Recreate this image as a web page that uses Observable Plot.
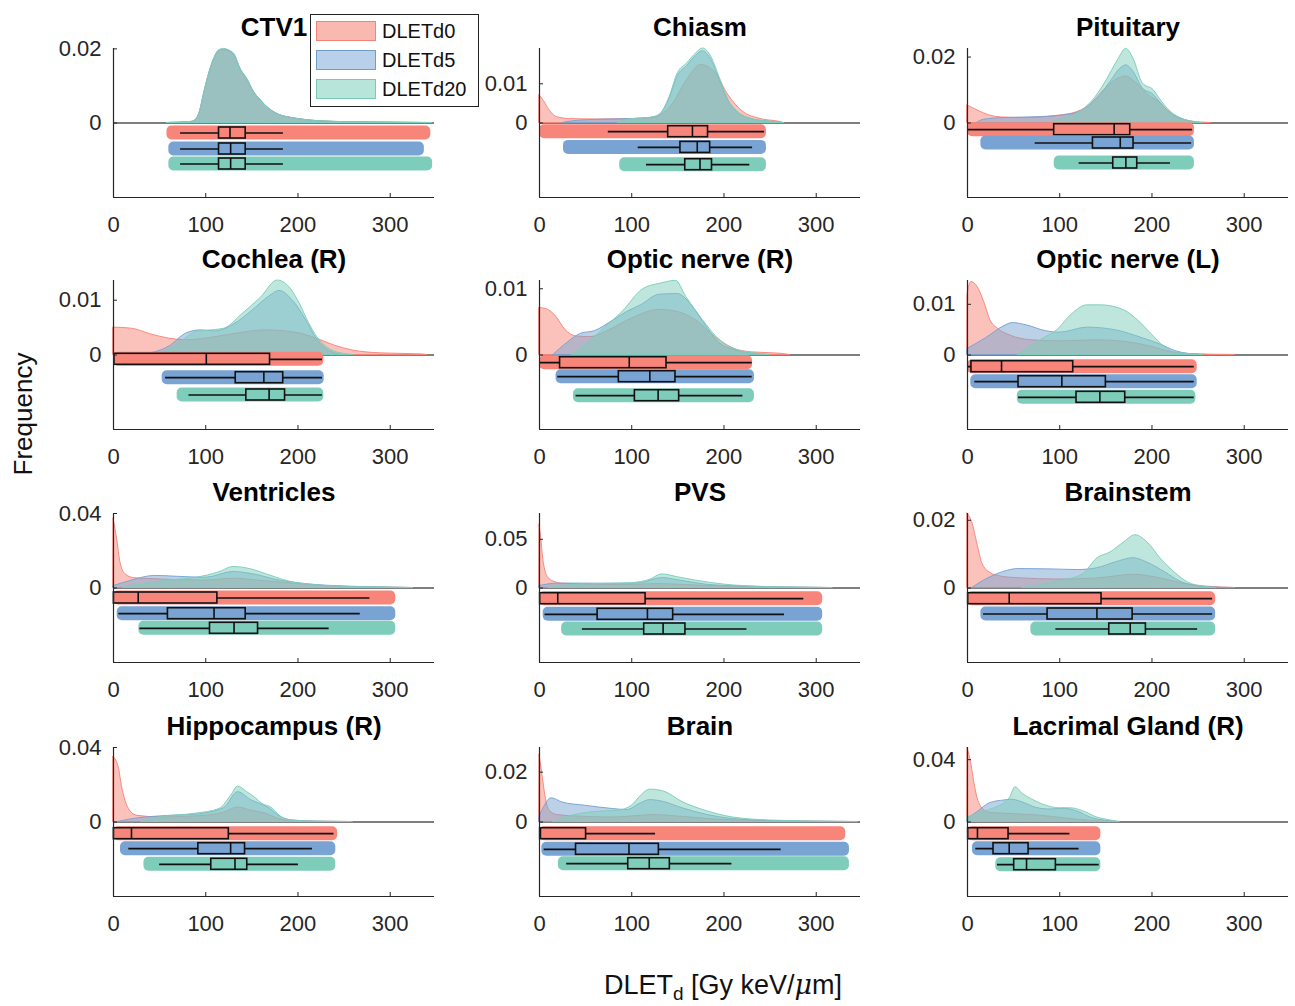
<!DOCTYPE html>
<html><head><meta charset="utf-8">
<script src="https://cdn.jsdelivr.net/npm/d3@7"></script>
<script src="https://cdn.jsdelivr.net/npm/@observablehq/plot@0.6"></script>
<style>
body{margin:0;background:#fff;}
#wrap{position:relative;width:1295px;height:1006px;font-family:"Liberation Sans",Arial,sans-serif;overflow:hidden;background:#fff;}
.panel{position:absolute;}
.panel svg{display:block;}
.legend{position:absolute;left:310px;top:14px;width:167px;height:91px;border:1.3px solid #222;background:#fff;z-index:5;}
.legend .row{position:absolute;left:5px;height:21px;}
.legend .sw{position:absolute;left:0;top:0;width:60px;height:20px;box-sizing:border-box;}
.legend .lab{position:absolute;left:66px;top:-1px;font-size:20px;color:#111;white-space:nowrap;}
</style></head><body><div id="wrap"></div>
<script>
const series = ["DLETd0", "DLETd5", "DLETd20"];
const panels = ["CTV1", "Chiasm", "Pituitary", "Cochlea (R)", "Optic nerve (R)", "Optic nerve (L)",
  "Ventricles", "PVS", "Brainstem", "Hippocampus (R)", "Brain", "Lacrimal Gland (R)"];
const yTicks = [0.02, 0.01, 0.02, 0.01, 0.01, 0.01, 0.04, 0.05, 0.02, 0.04, 0.02, 0.04];
const yMax = [0.0201, 0.019, 0.0226, 0.0136, 0.01125, 0.0147, 0.04, 0.0765, 0.022, 0.04, 0.0299, 0.0478];
const xTicks = [0, 100, 200, 300];

// density curves [x, frequency] per panel
const densD0 = [
  [[58,0],[85,0.0003],[90,0.001],[94,0.0032],[98,0.0076],[103.5,0.013],[109,0.017],[114,0.0192],[120,0.0196],[126,0.0192],[131,0.0182],[138,0.0143],[145,0.0117],[152,0.0084],[160,0.006],[167,0.0042],[174,0.0029],[183,0.0019],[192,0.0014],[205,0.0009],[221,0.0005],[257,0.0002],[300,0.0001],[344,0]],
  [[0,0.0071],[5,0.0055],[11,0.0032],[19,0.0015],[33,0.001],[60,0.0009],[100,0.001],[125,0.0013],[135,0.0025],[145,0.005],[160,0.011],[175,0.0148],[190,0.013],[205,0.007],[220,0.003],[240,0.001],[260,0.0003],[265,0]],
  [[0,0.0053],[11,0.0038],[25,0.0022],[36,0.0017],[61,0.0015],[98,0.0022],[119,0.0033],[134,0.0058],[148,0.0099],[163,0.0134],[172,0.0141],[184,0.0119],[199,0.0078],[206,0.0068],[217,0.0038],[228,0.0015],[242,0.0005],[264,0]],
  [[0,0.005],[20,0.0048],[40,0.0038],[60,0.003],[80,0.0027],[100,0.003],[130,0.0038],[165,0.0045],[200,0.004],[220,0.003],[240,0.0017],[260,0.0008],[290,0.0003],[335,0.0001],[340,0]],
  [[0,0.0071],[8,0.0069],[18,0.0058],[28,0.0038],[40,0.0028],[55,0.0027],[75,0.0037],[100,0.0055],[130,0.0068],[150,0.0065],[170,0.0052],[190,0.0028],[210,0.001],[230,0.0004],[260,0.0002],[272,0]],
  [[0,0.012],[4,0.0144],[11,0.0134],[18,0.0105],[25,0.0068],[33,0.0052],[47,0.0038],[70,0.0029],[100,0.0027],[140,0.0029],[170,0.0026],[200,0.0016],[220,0.0006],[240,0.0002],[290,0]],
  [[0,0.0373],[4,0.026],[7.6,0.0135],[13,0.0074],[22,0.0053],[40,0.0048],[70,0.0042],[100,0.004],[130,0.005],[160,0.0038],[180,0.003],[230,0.001],[280,0.0003],[320,0]],
  [[0,0.065],[2,0.05],[4,0.03],[6,0.019],[10,0.01],[15,0.0068],[25,0.0044],[50,0.0035],[90,0.003],[130,0.004],[170,0.0025],[210,0.0012],[260,0.0004],[315,0]],
  [[0,0.022],[5,0.0195],[11,0.0127],[16,0.0073],[25,0.0044],[36,0.0034],[55,0.0029],[100,0.0025],[140,0.0028],[180,0.0039],[210,0.0028],[235,0.0012],[260,0.0004],[290,0]],
  [[0,0.035],[6,0.0286],[9,0.0195],[13,0.0114],[18,0.006],[26,0.0033],[50,0.0025],[90,0.003],[120,0.005],[135,0.0078],[150,0.006],[165,0.0045],[180,0.0015],[195,0.0003],[260,0]],
  [[0,0.027],[2,0.022],[4,0.0166],[7,0.0092],[11,0.0045],[19,0.0028],[40,0.0022],[80,0.0018],[110,0.0025],[125,0.0028],[150,0.0022],[190,0.001],[240,0.0004],[300,0.0001],[340,0]],
  [[0,0.0475],[3.6,0.039],[7.2,0.026],[10.8,0.0154],[14.5,0.01],[20,0.0068],[25,0.0058],[35,0.0055],[50,0.005],[80,0.004],[110,0.002],[140,0.0005],[155,0]]
];
const densD5 = [
  [[58,0],[85,0.0003],[90,0.001],[94,0.0033],[98,0.0077],[103.5,0.0131],[109,0.0172],[114,0.0194],[120,0.0198],[126,0.0194],[131,0.0184],[138,0.0144],[145,0.0118],[152,0.0085],[160,0.006],[167,0.0042],[174,0.0029],[183,0.0019],[192,0.0014],[205,0.0009],[221,0.0005],[257,0.0002],[300,0.0001],[337,0]],
  [[25,0],[35,0.0004],[60,0.0008],[100,0.001],[120,0.0013],[130,0.002],[141,0.0062],[150,0.012],[160,0.0145],[170,0.0172],[177,0.0183],[185,0.0166],[195,0.0112],[205,0.0055],[215,0.0027],[230,0.001],[250,0.0003],[262,0]],
  [[10,0],[18,0.001],[40,0.0015],[80,0.0018],[110,0.0025],[125,0.0038],[140,0.007],[155,0.0125],[167,0.0168],[172,0.0175],[180,0.0155],[190,0.0105],[202,0.0085],[208,0.0065],[220,0.003],[235,0.001],[250,0]],
  [[30,0],[60,0.0015],[80,0.004],[95,0.0045],[110,0.0043],[130,0.0055],[150,0.008],[170,0.0108],[180,0.0117],[195,0.0098],[210,0.006],[220,0.003],[230,0.0012],[240,0.0003],[250,0]],
  [[15,0],[30,0.0018],[45,0.0032],[60,0.0036],[80,0.0052],[95,0.0065],[110,0.0075],[130,0.0091],[150,0.0092],[165,0.0075],[180,0.0045],[195,0.0018],[210,0.0008],[230,0.0002],[250,0]],
  [[0,0.0012],[20,0.0033],[40,0.0057],[49,0.0063],[65,0.0058],[85,0.0047],[100,0.0044],[130,0.0054],[160,0.0049],[190,0.0033],[210,0.002],[225,0.0008],[240,0.0002],[255,0]],
  [[0,0.001],[20,0.004],[45,0.0065],[70,0.006],[100,0.0055],[130,0.0086],[150,0.0075],[180,0.004],[210,0.002],[250,0.0008],[300,0.0002],[320,0]],
  [[0,0.002],[20,0.0045],[50,0.0045],[90,0.0043],[110,0.005],[133,0.0102],[150,0.008],[180,0.0035],[220,0.0015],[270,0.0005],[315,0]],
  [[5,0],[20,0.0025],[40,0.0048],[55,0.0056],[90,0.0055],[120,0.0053],[140,0.0058],[160,0.0075],[180,0.0088],[195,0.0075],[215,0.0045],[230,0.002],[245,0.0007],[260,0.0002],[290,0]],
  [[5,0],[20,0.0015],[50,0.003],[90,0.004],[120,0.0075],[135,0.016],[150,0.0115],[160,0.0095],[170,0.007],[180,0.003],[195,0.0008],[220,0.0002],[255,0]],
  [[0,0.002],[5,0.006],[13,0.0095],[25,0.0078],[50,0.0065],[80,0.0052],[95,0.0048],[110,0.0075],[120,0.0088],[135,0.008],[155,0.0055],[180,0.003],[210,0.0012],[260,0.0003],[340,0]],
  [[0,0.002],[10,0.006],[25,0.0122],[40,0.0138],[48,0.0143],[60,0.0125],[75,0.009],[90,0.008],[105,0.0085],[120,0.0065],[135,0.0025],[150,0.0008],[165,0]]
];
const densD20 = [
  [[58,0],[85,0.0003],[90,0.001],[94,0.0033],[98,0.0078],[103.5,0.0132],[109,0.0173],[114,0.0195],[120,0.02],[126,0.0195],[131,0.0186],[138,0.0145],[145,0.0119],[152,0.0085],[160,0.006],[167,0.0042],[174,0.0029],[183,0.0019],[192,0.0014],[205,0.0009],[221,0.0005],[257,0.0002],[300,0.0001],[346,0]],
  [[85,0],[100,0.001],[120,0.0013],[130,0.002],[141,0.0066],[150,0.0127],[160,0.0152],[170,0.0178],[177,0.019],[185,0.0174],[195,0.0118],[205,0.0058],[215,0.0028],[230,0.001],[250,0.0003],[265,0]],
  [[90,0],[100,0.001],[120,0.003],[135,0.0065],[150,0.0125],[163,0.019],[172,0.0225],[180,0.0195],[190,0.012],[202,0.0099],[208,0.0075],[220,0.0035],[235,0.001],[245,0.0003],[255,0]],
  [[50,0],[70,0.002],[90,0.0042],[100,0.0044],[120,0.0048],[140,0.0075],[160,0.0105],[178,0.0136],[190,0.0125],[200,0.01],[212,0.0058],[222,0.003],[235,0.001],[250,0.0002],[260,0]],
  [[35,0],[50,0.0015],[70,0.004],[90,0.0065],[112,0.0099],[132,0.0108],[148,0.0112],[159,0.0088],[177,0.0053],[195,0.0023],[213,0.0008],[235,0.0002],[250,0]],
  [[55,0],[80,0.003],[98,0.005],[112,0.0078],[130,0.0098],[145,0.0098],[170,0.0088],[185,0.0068],[199,0.0042],[213,0.0017],[224,0.0005],[240,0.0002],[255,0]],
  [[10,0],[30,0.002],[60,0.004],[90,0.0055],[115,0.0085],[130,0.0113],[145,0.0105],[165,0.0075],[190,0.0035],[220,0.0015],[260,0.0005],[320,0.0001],[325,0]],
  [[10,0],[30,0.0025],[60,0.004],[100,0.005],[120,0.0085],[133,0.014],[150,0.011],[170,0.0075],[200,0.0035],[240,0.0012],[280,0.0004],[318,0]],
  [[60,0],[100,0.002],[125,0.004],[141,0.0088],[155,0.0105],[170,0.0135],[182,0.0156],[195,0.0135],[210,0.0085],[225,0.0045],[240,0.0015],[255,0.0004],[270,0]],
  [[30,0],[50,0.0025],[90,0.0045],[115,0.007],[128,0.0145],[135,0.019],[145,0.016],[155,0.0125],[161,0.0098],[172,0.0075],[180,0.0035],[190,0.001],[210,0.0003],[258,0]],
  [[15,0],[30,0.002],[60,0.004],[85,0.0045],[100,0.0065],[110,0.0105],[120,0.013],[135,0.0122],[155,0.008],[180,0.0045],[210,0.0018],[250,0.0006],[300,0.0002],[345,0]],
  [[0,0.003],[15,0.006],[30,0.009],[40,0.012],[46,0.0155],[52,0.0223],[60,0.018],[70,0.0145],[85,0.0105],[100,0.0088],[112,0.0088],[125,0.007],[140,0.003],[155,0.001],[165,0]]
];

// box statistics [lower whisker, Q1, median, Q3, upper whisker]
const boxD0 = [[72.7,114.4,126.3,143.3,184.2],[74.6,139.5,165.8,182.7,244],[0,94,159,176.4,244],[0,1,100.6,169.7,226.6],[0,22.3,97.3,137.7,230.6],[0.7,4.3,36.9,114.6,245.8],[0.4,0.4,26.8,112.6,278],[0.7,0.7,19.8,115,286.5],[0.7,0.7,45.2,145.3,265.7],[0.4,0.4,19.5,125,239],[0.7,0.7,1.0,50.5,125.8],[0.7,0.7,10.8,44.5,111]];
const boxD5 = [[72.7,114.4,127,143.3,184.2],[107,152.8,171,185,231],[73.4,136,165.6,180,243],[56.5,132.5,163,184,226.6],[19.8,86,119.6,147.4,230.6],[8,55.3,102.3,150,245.8],[5.8,59,109,143.3,267.5],[6,63,117,144.9,265.6],[17.4,86.8,140.3,179,265.7],[16.6,92,127,142.6,215.7],[5,39.6,97,129.4,262],[9,28.2,45.2,66.2,121]];
const boxD20 = [[72.7,114.4,127,143.3,184.2],[116,158,174,187,228],[121,158,171.7,184,220],[81.8,144,168.7,186,226.6],[39.6,103.4,128.6,151.4,220.5],[55.3,118.2,143.5,171,245.8],[28.6,104.6,130.7,156.7,233.8],[46.5,113.5,134,158.2,224.9],[95.8,153.7,176.4,193.4,249.5],[50,106,131.7,145,200.5],[29.5,96.2,119,141.3,208.6],[32.5,50.6,64,95.8,142.8]];

// extent of the jittered data points [min, max]
const ptsD0 = [[58,344],[0,246],[0,246],[0,228],[0,231],[0,249],[0,306],[0,307],[0,269],[0,243],[0,332],[0,144.6]];
const ptsD5 = [[60,337],[26,246],[14.5,246],[52.8,228.4],[18,233],[3.6,249],[4,306],[4,307],[14.5,269],[7.6,241],[2.5,336],[5.4,144.6]];
const ptsD20 = [[60,346],[87,246],[94,246],[69,228],[36.8,233],[54,247.6],[27.5,306],[24,307],[68.7,269],[33,241],[20.5,336],[30.7,144.6]];

// ---- layout (pixel offsets of the rain rows below zero, per panel) ----
const rowOffsetPx = [[10,26,41],[8.7,24.4,41.7],[6.7,20,40],[4.3,22.7,40],[7.7,21.7,40.7],[11.7,26.7,42.3],
  [10,25.7,40.3],[10.7,26.3,41],[10.7,26,41],[11.7,26.7,42.3],[11.7,27.3,41.7],[11.7,26.7,42.7]];
const W = 321, H = 149, ML = 75, MR = 12, MT = 40, MB = 44, XMAX = 348;
const colX = [113, 539, 967], rowTop = [48, 280, 513, 747];
const ptColor = ["#F8857A", "#78A3D2", "#7ECDBA"];
const dens = [densD0, densD5, densD20], boxes = [boxD0, boxD5, boxD20], pts = [ptsD0, ptsD5, ptsD20];
const axisColor = "#262626";

const wrap = document.getElementById("wrap");

panels.forEach((name, i) => {
  const M = yMax[i];
  const px = 2 * M / H;
  const marks = [Plot.ruleY([0], {x1: 0, x2: XMAX, stroke: "#000", strokeWidth: 1.2})];
  series.forEach((s, k) => {
    const data = dens[k][i].map(([x, y]) => ({x, y}));
    marks.push(Plot.areaY(data, {x: "x", y: "y", fill: ptColor[k], fillOpacity: 0.5,
      stroke: ptColor[k], strokeOpacity: 0.95, strokeWidth: 1, curve: "monotone-x"}));
  });
  series.forEach((s, k) => {
    const [wl, q1, med, q3, wh] = boxes[k][i];
    const [pmin, pmax] = pts[k][i];
    const yc = -rowOffsetPx[i][k] * px;
    const row = [{wl, q1, med, q3, wh, pmin, pmax, yc}];
    marks.push(
      Plot.rect(row, {x1: "pmin", x2: "pmax", y1: d => d.yc - 7 * px, y2: d => d.yc + 7 * px, fill: ptColor[k], rx: 5}),
      Plot.ruleY(row, {x1: "wl", x2: "wh", y: "yc", stroke: "#111", strokeWidth: 1.7}),
      Plot.rect(row, {x1: "q1", x2: "q3", y1: d => d.yc - 5.5 * px, y2: d => d.yc + 5.5 * px, fill: ptColor[k], stroke: "#111", strokeWidth: 1.6}),
      Plot.ruleX(row, {x: "med", y1: d => d.yc - 5.5 * px, y2: d => d.yc + 5.5 * px, stroke: "#111", strokeWidth: 1.6})
    );
  });
  marks.push(
    Plot.ruleX([0], {y1: -M, y2: M, stroke: axisColor, strokeWidth: 1.2}),
    Plot.ruleY([-M], {x1: 0, x2: XMAX, stroke: axisColor, strokeWidth: 1.2}),
    Plot.ruleX(xTicks.slice(1), {y1: -M, y2: -M + 4 * px, stroke: axisColor}),
    Plot.ruleY([0, yTicks[i]], {x1: 0, x2: 4 * XMAX / W, stroke: axisColor}),
    Plot.axisX(xTicks, {tickSize: 0, tickPadding: 19, fontSize: 22, label: null, tickFormat: d => String(d)}),
    Plot.axisY([0, yTicks[i]], {tickSize: 0, tickPadding: 12, fontSize: 22, label: null, tickFormat: d => String(d)}),
    Plot.text([name], {frameAnchor: "top", dy: -13, lineAnchor: "bottom", fontSize: 26, fontWeight: "bold", fill: "#000"})
  );
  const chart = Plot.plot({
    width: ML + W + MR, height: MT + H + MB,
    marginLeft: ML, marginRight: MR, marginTop: MT, marginBottom: MB,
    x: {domain: [0, XMAX], label: null},
    y: {domain: [-M, M], label: null},
    style: {fontFamily: "'Liberation Sans', Arial, sans-serif", color: axisColor, background: "transparent", overflow: "visible"},
    marks
  });
  const div = document.createElement("div");
  div.className = "panel";
  div.style.left = (colX[i % 3] - ML) + "px";
  div.style.top = (rowTop[Math.floor(i / 3)] - MT) + "px";
  div.style.width = (ML + W + MR) + "px";
  div.style.height = (MT + H + MB) + "px";
  div.appendChild(chart);
  wrap.appendChild(div);
});

// legend
const legend = document.createElement("div");
legend.className = "legend";
const swFill = ["#F9B9B1", "#B8D0E9", "#B8E5DA"], swStroke = ["#F08576", "#6F9CCB", "#79C9B5"];
series.forEach((s, k) => {
  const r = document.createElement("div");
  r.className = "row";
  r.style.top = (6 + k * 29) + "px";
  r.innerHTML = `<div class="sw" style="background:${swFill[k]};border:1.5px solid ${swStroke[k]}"></div><div class="lab">${s}</div>`;
  legend.appendChild(r);
});
wrap.appendChild(legend);

// axis titles
const xl = document.createElement("div");
xl.style.cssText = "position:absolute;left:723px;top:969px;transform:translateX(-50%);font-size:27px;color:#111;white-space:nowrap;";
xl.innerHTML = 'DLET<sub style="font-size:19px;">d</sub> [Gy keV/<i style="font-family:\'DejaVu Serif\',serif;">&mu;</i>m]';
wrap.appendChild(xl);
const yl = document.createElement("div");
yl.style.cssText = "position:absolute;left:23px;top:414px;transform:translate(-50%,-50%) rotate(-90deg);font-size:26px;color:#111;white-space:nowrap;";
yl.textContent = "Frequency";
wrap.appendChild(yl);
</script>
</body></html>
